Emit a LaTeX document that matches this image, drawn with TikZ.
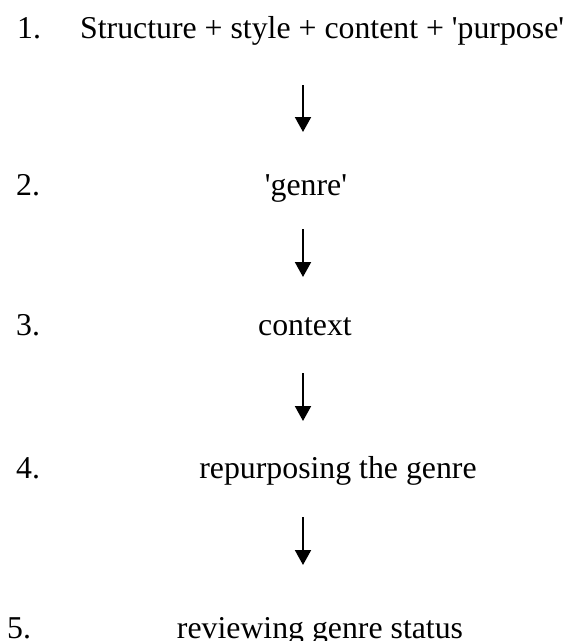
\documentclass[tikz,border=0pt]{standalone}
\usepackage{fontspec}
\setmainfont{Liberation Serif}
\usetikzlibrary{arrows.meta}
\begin{document}
\begin{tikzpicture}[x=1pt,y=-1pt,
  stagetext/.style={font=\fontsize{31.8}{38}\selectfont, inner sep=0pt, anchor=base},
  stagenum/.style={stagetext, anchor=base west},
  flow/.style={line width=2pt, -{Triangle[length=15pt,width=16pt]}}]
\useasboundingbox (0,0) rectangle (569,641);

% numbered stages
\node[stagenum] (n1) at (17,38) {1.};
\node[stagetext, anchor=base west] (s1) at (80,38) {Structure + style + content + \textquotesingle purpose\textquotesingle};
\node[stagenum] (n2) at (16,195) {2.};
\node[stagetext] (s2) at (306,195) {\textquotesingle genre\textquotesingle};
\node[stagenum] (n3) at (16,335) {3.};
\node[stagetext] (s3) at (305,335) {context};
\node[stagenum] (n4) at (16,478) {4.};
\node[stagetext] (s4) at (338,478) {repurposing the genre};
\node[stagenum] (n5) at (7,638) {5.};
\node[stagetext] (s5) at (320,638) {reviewing genre status};

% arrow end points between the stages
\coordinate (a1s) at (303,85);  \coordinate (a1e) at (303,132);
\coordinate (a2s) at (303,229); \coordinate (a2e) at (303,277);
\coordinate (a3s) at (303,373); \coordinate (a3e) at (303,421);
\coordinate (a4s) at (303,517); \coordinate (a4e) at (303,565);

\draw[flow] (a1s) -- (a1e);
\draw[flow] (a2s) -- (a2e);
\draw[flow] (a3s) -- (a3e);
\draw[flow] (a4s) -- (a4e);
\end{tikzpicture}
\end{document}
